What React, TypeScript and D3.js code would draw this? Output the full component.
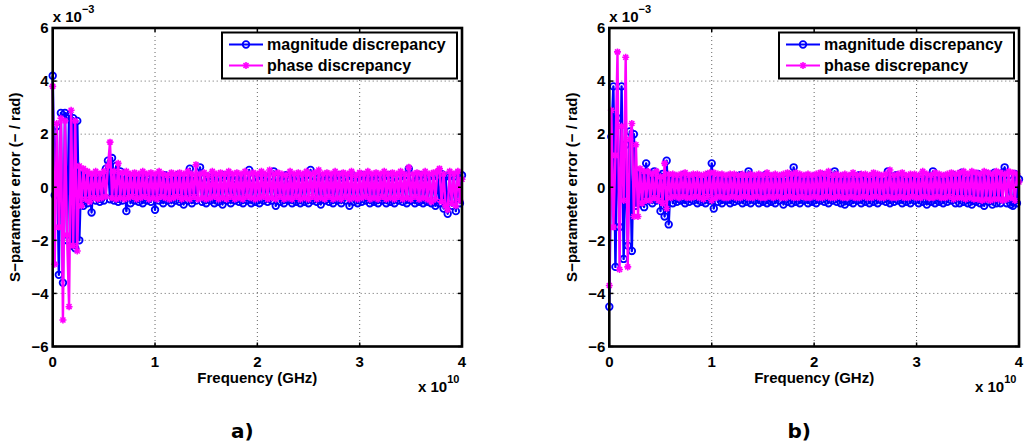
import * as d3 from "d3";

// frequency sweep: 201 points, 0 .. 4e10 Hz
const F_STEP = 2e8;

// panel a) values in units of 1e-3
const A_MAG = [
  4.2, -0.3, 2.3, -3.3, 2.8, -3.6, 2.8, -2.0, 2.7, -2.2,
  2.6, -2.3, 2.5, -2.0, 0.6, -0.7, 0.5, -0.6, 0.4, -0.95,
  0.4, -0.5, 0.35, -0.55, 0.45, -0.5, 0.7, 1.0, -0.45, 1.1,
  -0.5, 0.8, -0.55, 0.6, -0.5, 0.4, -0.9, 0.45, -0.6, 0.35,
  -0.5, 0.4, -0.55, 0.35, -0.6, 0.45, -0.5, 0.3, -0.55, 0.4,
  -0.85, 0.35, -0.5, 0.4, -0.6, 0.45, -0.5, 0.3, -0.6, 0.4,
  -0.5, 0.45, -0.55, 0.35, -0.65, 0.4, -0.5, 0.7, -0.6, 0.35,
  -0.5, 0.4, 0.75, -0.55, 0.35, -0.6, 0.4, -0.5, 0.3, -0.6,
  0.4, -0.55, 0.35, -0.65, 0.45, -0.5, 0.4, -0.6, 0.3, -0.5,
  0.4, -0.55, 0.35, -0.6, 0.4, -0.5, 0.65, -0.6, 0.35, -0.55,
  0.4, -0.6, 0.45, -0.5, 0.35, -0.55, 0.4, -0.5, 0.6, -0.7,
  0.35, -0.55, 0.4, -0.6, 0.45, -0.5, 0.3, -0.6, 0.4, -0.55,
  0.4, -0.6, 0.35, -0.55, 0.45, -0.6, 0.65, -0.5, 0.4, -0.55,
  0.35, -0.65, 0.4, -0.5, 0.45, -0.55, 0.35, -0.6, 0.4, -0.5,
  0.45, -0.6, 0.35, -0.5, 0.4, -0.7, 0.45, -0.55, 0.35, -0.6,
  0.4, -0.55, 0.45, -0.5, 0.35, -0.6, 0.4, -0.55, 0.45, -0.6,
  0.35, -0.5, 0.4, -0.6, 0.45, -0.55, 0.35, -0.6, 0.4, -0.5,
  0.4, -0.55, 0.45, -0.6, 0.7, -0.5, 0.35, -0.6, 0.4, -0.55,
  0.45, -0.6, 0.35, -0.55, 0.4, -0.6, 0.45, -0.7, 0.4, -0.6,
  0.5, -0.8, 0.4, -1.0, 0.45, -0.7, 0.4, -0.9, 0.5, -0.6,
  0.45,
];
const A_PH = [
  3.8, -2.9, 2.4, -1.5, 2.6, -5.0, 2.5, -1.8, -4.5, 2.9,
  -2.2, 2.5, -2.4, 0.8, -0.7, 0.7, -0.45, 0.6, -0.55, 0.5,
  -0.4, 0.6, -0.45, 0.5, -0.4, 0.6, -0.35, 0.8, 1.7, -0.4,
  0.6, -0.45, 0.9, -0.4, 0.55, -0.45, 0.6, -0.4, 0.5, -0.35,
  0.55, -0.45, 0.5, -0.4, 0.6, -0.35, 0.5, -0.45, 0.55, -0.4,
  0.5, -0.45, 0.6, -0.35, 0.5, -0.4, 0.45, -0.45, 0.55, -0.4,
  0.5, -0.35, 0.55, -0.45, 0.5, -0.4, 0.6, -0.45, 0.5, -0.35,
  0.85, -0.45, 0.5, -0.4, 0.55, -0.45, 0.45, -0.4, 0.6, -0.35,
  0.5, -0.45, 0.55, -0.4, 0.5, -0.45, 0.6, -0.35, 0.5, -0.45,
  0.55, -0.4, 0.5, -0.45, 0.6, -0.35, 0.5, -0.4, 0.55, -0.45,
  0.5, -0.4, 0.6, -0.35, 0.5, -0.45, 0.65, -0.4, 0.5, -0.45,
  0.55, -0.35, 0.5, -0.45, 0.45, -0.4, 0.6, -0.45, 0.5, -0.35,
  0.55, -0.45, 0.5, -0.4, 0.6, -0.45, 0.5, -0.35, 0.55, -0.45,
  0.65, -0.4, 0.5, -0.45, 0.55, -0.35, 0.5, -0.45, 0.6, -0.4,
  0.5, -0.45, 0.55, -0.35, 0.5, -0.45, 0.6, -0.4, 0.45, -0.45,
  0.55, -0.4, 0.5, -0.35, 0.6, -0.45, 0.5, -0.4, 0.55, -0.45,
  0.5, -0.35, 0.6, -0.45, 0.5, -0.4, 0.55, -0.45, 0.5, -0.35,
  0.6, -0.45, 0.5, -0.4, 0.75, -0.45, 0.5, -0.35, 0.55, -0.45,
  0.5, -0.4, 0.6, -0.45, 0.5, -0.55, 0.55, -0.45, 0.6, 0.7,
  -0.55, 0.5, -0.7, -0.85, 0.6, -0.6, 0.5, -0.7, 0.6, -0.5,
  0.3,
];

// panel b)
const B_MAG = [
  -4.5, 1.9, 3.8, -3.0, 2.6, -1.5, 3.8, -2.7, 1.6, -2.2,
  2.1, -2.4, 2.0, -0.7, 0.6, -0.6, 0.5, -0.75, 0.9, -0.5,
  0.5, -0.6, 0.6, -0.5, 0.45, -0.9, 0.5, -1.1, 1.0, -1.4,
  0.35, -0.6, 0.4, -0.55, 0.3, -0.5, 0.45, -0.6, 0.35, -0.55,
  0.4, -0.5, 0.35, -0.6, 0.4, -0.55, 0.3, -0.6, 0.45, -0.5,
  0.9, -0.8, 0.35, -0.55, 0.4, -0.6, 0.3, -0.5, 0.4, -0.6,
  0.35, -0.55, 0.4, -0.5, 0.45, -0.6, 0.35, -0.55, 0.6, -0.6,
  0.4, -0.5, 0.35, -0.6, 0.4, -0.55, 0.45, -0.6, 0.3, -0.55,
  0.4, -0.6, 0.35, -0.5, 0.4, -0.65, 0.3, -0.55, 0.45, -0.6,
  0.75, -0.55, 0.4, -0.6, 0.35, -0.5, 0.4, -0.6, 0.3, -0.55,
  0.4, -0.6, 0.35, -0.5, 0.45, -0.55, 0.35, -0.6, 0.4, -0.5,
  0.6, -0.55, 0.35, -0.6, 0.4, -0.65, 0.3, -0.55, 0.4, -0.6,
  0.35, -0.5, 0.45, -0.6, 0.4, -0.55, 0.3, -0.6, 0.4, -0.55,
  0.35, -0.6, 0.4, -0.5, 0.35, -0.55, 0.6, -0.6, 0.4, -0.55,
  0.45, -0.5, 0.35, -0.6, 0.4, -0.55, 0.35, -0.6, 0.4, -0.5,
  0.35, -0.6, 0.4, -0.55, 0.3, -0.65, 0.4, -0.55, 0.6, -0.6,
  0.4, -0.55, 0.35, -0.6, 0.4, -0.55, 0.35, -0.5, 0.45, -0.6,
  0.4, -0.6, 0.55, -0.55, 0.35, -0.6, 0.4, -0.65, 0.45, -0.55,
  0.5, -0.6, 0.4, -0.7, 0.5, -0.55, 0.4, -0.65, 0.55, -0.6,
  0.5, -0.6, 0.55, 0.75, -0.6, 0.45, -0.65, -0.7, 0.5, -0.6,
  0.3,
];
const B_PH = [
  -3.7, 2.9, -1.5, 1.2, 5.1, -3.1, 2.3, -0.5, 4.9, -3.0,
  1.8, 2.4, -1.1, 1.6, -1.1, 0.7, -0.6, 0.6, -0.5, 0.6,
  -0.5, 0.5, -0.4, 0.6, -0.5, 0.4, -0.6, 0.9, -0.8, 0.5,
  -0.4, 0.5, -0.35, 0.45, -0.4, 0.5, -0.35, 0.55, -0.4, 0.45,
  -0.4, 0.5, -0.35, 0.5, -0.4, 0.45, -0.45, 0.5, -0.35, 0.55,
  -0.5, 0.55, -0.4, 0.5, -0.35, 0.5, -0.4, 0.45, -0.4, 0.5,
  -0.35, 0.5, -0.4, 0.45, -0.4, 0.5, -0.35, 0.45, -0.4, 0.5,
  -0.4, 0.45, -0.35, 0.5, -0.4, 0.45, -0.4, 0.55, -0.35, 0.45,
  -0.4, 0.5, -0.35, 0.45, -0.4, 0.5, -0.4, 0.55, -0.35, 0.5,
  -0.4, 0.55, -0.4, 0.5, -0.35, 0.45, -0.4, 0.5, -0.4, 0.45,
  -0.35, 0.5, -0.4, 0.55, -0.4, 0.5, -0.35, 0.6, -0.4, 0.45,
  -0.4, 0.5, -0.35, 0.45, -0.4, 0.5, -0.4, 0.45, -0.35, 0.55,
  -0.4, 0.45, -0.4, 0.5, -0.35, 0.5, -0.4, 0.45, -0.4, 0.55,
  -0.35, 0.5, -0.4, 0.45, -0.4, 0.5, -0.35, 0.65, -0.4, 0.45,
  -0.4, 0.5, -0.35, 0.55, -0.4, 0.45, -0.4, 0.5, -0.35, 0.5,
  -0.4, 0.45, -0.4, 0.6, -0.35, 0.5, -0.4, 0.45, -0.4, 0.55,
  -0.35, 0.5, -0.4, 0.45, -0.4, 0.5, -0.35, 0.55, -0.45, 0.5,
  -0.4, 0.55, -0.4, 0.6, -0.45, 0.5, -0.4, 0.6, -0.45, 0.55,
  -0.45, 0.5, -0.5, 0.6, -0.45, 0.55, -0.5, 0.5, -0.45, 0.6,
  -0.45, 0.55, -0.5, 0.5, -0.45, 0.6, -0.4, 0.55, -0.5, 0.5,
  0.2,
];

const X_TICKS = [0, 1, 2, 3, 4];
const Y_TICKS = [-6, -4, -2, 0, 2, 4, 6];
const LEGEND = ["magnitude discrepancy", "phase discrepancy"];

const BLUE = "#0000ff";
const MAGENTA = "#ff00ff";
const FONT = "'Liberation Sans', Arial, Helvetica, sans-serif";
const STAR = "M-3.5,0H3.5M0,-3.5V3.5M-2.5,-2.5L2.5,2.5M-2.5,2.5L2.5,-2.5";

const fmt = (v) => (v < 0 ? "\u2212" + Math.abs(v) : String(v));

function Panel({ left, right, mag, ph, tag }) {
  const top = 28;
  const bottom = 346.5;
  const x = d3.scaleLinear().domain([0, 4e10]).range([left, right]);
  const y = d3.scaleLinear().domain([-6e-3, 6e-3]).range([bottom, top]);

  const toPts = (arr) => arr.map((v, i) => [i * F_STEP, v * 1e-3]);
  const line = d3
    .line()
    .x((d) => x(d[0]))
    .y((d) => y(d[1]));
  const magPts = toPts(mag);
  const phPts = toPts(ph);

  const lx = right - 240;
  const ly = 32.5;

  return (
    <g fontFamily={FONT} fontWeight="bold">
      {/* grid */}
      {X_TICKS.slice(1, -1).map((t) => (
        <line key={"gx" + t} x1={x(t * 1e10)} x2={x(t * 1e10)} y1={top} y2={bottom}
          stroke="#666" strokeWidth={1} strokeDasharray="1,3" />
      ))}
      {Y_TICKS.slice(1, -1).map((t) => (
        <line key={"gy" + t} x1={left} x2={right} y1={y(t * 1e-3)} y2={y(t * 1e-3)}
          stroke="#666" strokeWidth={1} strokeDasharray="1,3" />
      ))}

      {/* data */}
      <path d={line(magPts)} fill="none" stroke={BLUE} strokeWidth={2.4} strokeLinejoin="round" />
      {magPts.map((d, i) => (
        <circle key={"m" + i} cx={x(d[0])} cy={y(d[1])} r={3.3} fill="none" stroke={BLUE} strokeWidth={1.8} />
      ))}
      <path d={line(phPts)} fill="none" stroke={MAGENTA} strokeWidth={2.4} strokeLinejoin="round" />
      {phPts.map((d, i) => (
        <path key={"p" + i} d={STAR} transform={`translate(${x(d[0])},${y(d[1])})`}
          fill="none" stroke={MAGENTA} strokeWidth={1.6} />
      ))}

      {/* ticks */}
      {X_TICKS.map((t) => (
        <g key={"tx" + t}>
          <line x1={x(t * 1e10)} x2={x(t * 1e10)} y1={bottom} y2={bottom - 4} stroke="#000" strokeWidth={1.5} />
          <line x1={x(t * 1e10)} x2={x(t * 1e10)} y1={top} y2={top + 4} stroke="#000" strokeWidth={1.5} />
          <text x={x(t * 1e10)} y={367} textAnchor="middle" fontSize={15}>{fmt(t)}</text>
        </g>
      ))}
      {Y_TICKS.map((t) => (
        <g key={"ty" + t}>
          <line x1={left} x2={left + 4} y1={y(t * 1e-3)} y2={y(t * 1e-3)} stroke="#000" strokeWidth={1.5} />
          <line x1={right} x2={right - 4} y1={y(t * 1e-3)} y2={y(t * 1e-3)} stroke="#000" strokeWidth={1.5} />
          <text x={left - 4} y={y(t * 1e-3) + 5.3} textAnchor="end" fontSize={15}>{fmt(t)}</text>
        </g>
      ))}

      {/* axes box */}
      <rect x={left} y={top} width={right - left} height={bottom - top} fill="none" stroke="#000" strokeWidth={2.6} />

      {/* exponents */}
      <text x={left} y={22} fontSize={15}>
        x 10<tspan fontSize={11} dy={-9}>{"\u22123"}</tspan>
      </text>
      <text x={right - 44} y={392} fontSize={15}>
        x 10<tspan fontSize={11} dy={-9}>10</tspan>
      </text>

      {/* axis labels */}
      <text x={(left + right) / 2} y={383} textAnchor="middle" fontSize={15}>Frequency (GHz)</text>
      <text transform={`translate(${left - 32.5},${(top + bottom) / 2}) rotate(-90)`} textAnchor="middle" fontSize={15}>
        {"S\u2212parameter error (\u2212 / rad)"}
      </text>

      {/* legend */}
      <rect x={lx} y={ly} width={235} height={46} fill="#fff" stroke="#000" strokeWidth={2} />
      <line x1={lx + 7} x2={lx + 41} y1={ly + 12} y2={ly + 12} stroke={BLUE} strokeWidth={2} />
      <circle cx={lx + 24} cy={ly + 12} r={3.3} fill="none" stroke={BLUE} strokeWidth={1.8} />
      <text x={lx + 45} y={ly + 17.5} fontSize={16}>{LEGEND[0]}</text>
      <line x1={lx + 7} x2={lx + 41} y1={ly + 33} y2={ly + 33} stroke={MAGENTA} strokeWidth={2} />
      <path d={STAR} transform={`translate(${lx + 24},${ly + 33})`} fill="none" stroke={MAGENTA} strokeWidth={1.6} />
      <text x={lx + 45} y={ly + 38.5} fontSize={16}>{LEGEND[1]}</text>

      {/* panel tag */}
      <text x={(left + right) / 2 - 15} y={438} textAnchor="middle" fontSize={20}
        fontFamily="'DejaVu Sans', sans-serif">{tag}</text>
    </g>
  );
}

export default function App() {
  return (
    <svg width={1025} height={448} style={{ position: "absolute", left: 0, top: 0, background: "#fff" }}>
      <Panel left={52.7} right={462} mag={A_MAG} ph={A_PH} tag="a)" />
      <Panel left={609.3} right={1019} mag={B_MAG} ph={B_PH} tag="b)" />
    </svg>
  );
}
